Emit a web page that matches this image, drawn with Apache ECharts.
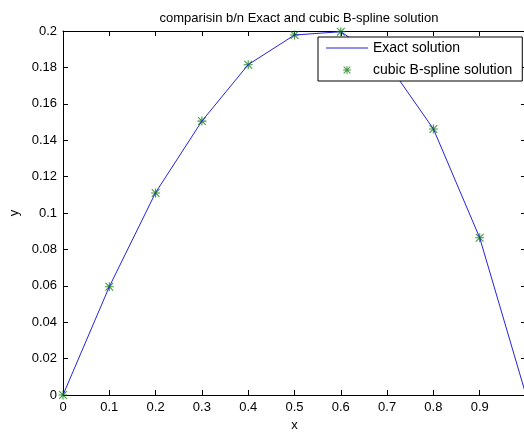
<!DOCTYPE html>
<html>
<head>
<meta charset="utf-8">
<script src="https://cdn.jsdelivr.net/npm/echarts@6/dist/echarts.min.js"></script>
<style>
html,body{margin:0;padding:0;background:#fff;}
#c{width:524px;height:432px;}
</style>
</head>
<body>
<div id="c"></div>
<script>
var xValues = [0, 0.1, 0.2, 0.3, 0.4, 0.5, 0.6, 0.7, 0.8, 0.9, 1.0];
var exactValues = [0, 0.0595, 0.1112, 0.1505, 0.1815, 0.1978, 0.1996, 0.1826, 0.1462, 0.0864, 0];
var splineX = [0, 0.1, 0.2, 0.3, 0.4, 0.5, 0.6, 0.7, 0.8, 0.9];
var splineValues = [0, 0.0595, 0.1110, 0.1505, 0.1815, 0.1978, 0.1996, 0.1826, 0.1462, 0.0864];
var titleText = 'comparisin b/n Exact and cubic B-spline solution';
var seriesNames = ['Exact solution', 'cubic B-spline solution'];

var star = 'path://M4.4 0 L5.6 0 L5.6 10 L4.4 10 Z M0 4.4 L10 4.4 L10 5.6 L0 5.6 Z M1.1 0.3 L9.7 8.9 L8.9 9.7 L0.3 1.1 Z M8.9 0.3 L9.7 1.1 L1.1 9.7 L0.3 8.9 Z';
var legendStar = 'path://M-4 -4 L-3.9 -4 L-3.9 -3.9 Z M14 14 L13.9 14 L13.9 13.9 Z M4.4 0 L5.6 0 L5.6 10 L4.4 10 Z M0 4.4 L10 4.4 L10 5.6 L0 5.6 Z M1.1 0.3 L9.7 8.9 L8.9 9.7 L0.3 1.1 Z M8.9 0.3 L9.7 1.1 L1.1 9.7 L0.3 8.9 Z';
var legendLine = 'path://M0 0 L42 0 L42 1.2 L0 1.2 Z';
var font = 'Liberation Sans';

var chart = echarts.init(document.getElementById('c'), null, {renderer: 'canvas'});
function axisCommon(extra) {
  return Object.assign({
    axisLine: {show: true, onZero: false, lineStyle: {color: '#000', width: 1}},
    axisTick: {show: true, inside: true, length: 5, lineStyle: {color: '#000'}},
    splitLine: {show: false}
  }, extra);
}
chart.setOption({
  backgroundColor: '#fff',
  animation: false,
  textStyle: {fontFamily: font},
  title: {
    text: titleText, left: 294, top: 7, textAlign: 'center',
    textStyle: {fontFamily: font, fontSize: 13, fontWeight: 'normal', color: '#000'}
  },
  legend: {
    left: 318, top: 37, orient: 'vertical',
    backgroundColor: '#fff', borderColor: '#000', borderWidth: 1,
    padding: [4, 10, 4, 8], itemGap: 8, itemWidth: 42, itemHeight: 14,
    textStyle: {fontFamily: font, fontSize: 14, color: '#000'},
    data: [{name: seriesNames[0], icon: legendLine}, {name: seriesNames[1], icon: legendStar}]
  },
  grid: {left: 63, width: 463, top: 31, bottom: 37, containLabel: false, outerBoundsMode: 'none'},
  xAxis: [
    axisCommon({
      type: 'value', min: 0, max: 1, interval: 0.1, position: 'bottom',
      name: 'x', nameLocation: 'middle', nameGap: 24,
      nameTextStyle: {fontFamily: font, fontSize: 13, color: '#000'},
      axisLabel: {fontFamily: font, fontSize: 13, color: '#000', margin: 6,
        formatter: function (v) { return v >= 0.999 ? '' : String(+v.toFixed(2)); }}
    }),
    axisCommon({
      type: 'value', min: 0, max: 1, interval: 0.1, position: 'top',
      axisLabel: {show: false}
    })
  ],
  yAxis: [
    axisCommon({
      type: 'value', min: 0, max: 0.2, interval: 0.02, position: 'left',
      name: 'y', nameLocation: 'middle', nameGap: 42, nameRotate: 90,
      nameTextStyle: {fontFamily: font, fontSize: 13, color: '#000'},
      axisLabel: {fontFamily: font, fontSize: 13, color: '#000', margin: 6,
        formatter: function (v) { return String(+v.toFixed(2)); }}
    }),
    axisCommon({
      type: 'value', min: 0, max: 0.2, interval: 0.02, position: 'right',
      axisLabel: {show: false}
    })
  ],
  series: [
    {
      name: seriesNames[0], type: 'line', symbol: 'none',
      lineStyle: {color: '#2424d8', width: 1},
      itemStyle: {color: '#2424d8'},
      data: xValues.map(function (x, i) { return [x, exactValues[i]]; })
    },
    {
      name: seriesNames[1], type: 'scatter', symbol: star, symbolSize: 9,
      itemStyle: {color: '#0b7d0b'},
      data: splineX.map(function (x, i) { return [x, splineValues[i]]; })
    }
  ]
});
</script>
</body>
</html>
